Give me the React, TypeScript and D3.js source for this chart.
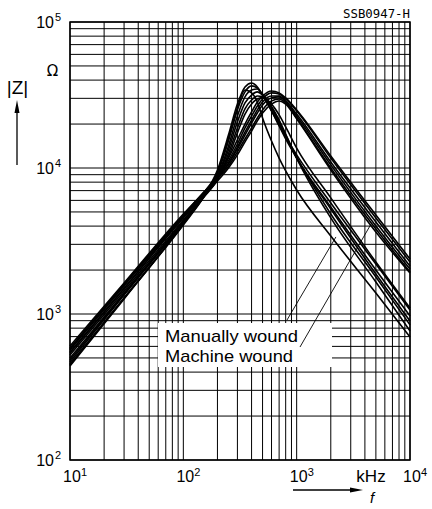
import * as d3 from "d3";

// frequency grid (kHz) shared by all curves
const freqKHz = [10, 30, 100, 150, 200, 250, 300, 350, 400, 450, 500, 600, 700, 800, 1000, 2000, 5000, 10000];

// |Z| in ohm, manually wound samples (lower resonance, higher peak)
const manuallyWound = [
  [484, 1371, 4270, 6430, 9700, 16800, 27400, 35900, 38200, 35900, 31600, 24600, 19700, 16300, 12300, 5760, 2200, 1065],
  [455, 1287, 4070, 6240, 9110, 15300, 25000, 33200, 36500, 35300, 31600, 24600, 19400, 15800, 11700, 5410, 2000, 970],
  [441, 1267, 4140, 6330, 8820, 14100, 22700, 30700, 34200, 34800, 32100, 25800, 20300, 16300, 11700, 5240, 1880, 896],
  [500, 1393, 4340, 6430, 8680, 13300, 20700, 27900, 31600, 33200, 31600, 26200, 21000, 16800, 11900, 4840, 1790, 842],
  [524, 1437, 4410, 6330, 8420, 12500, 18800, 25400, 29200, 31100, 30700, 26200, 21300, 17100, 11700, 4550, 1656, 765],
  [469, 1349, 4200, 6240, 8280, 11900, 17400, 23400, 27400, 29700, 30200, 27400, 23100, 19100, 13700, 6240, 2270, 1099],
  [448, 1287, 4140, 6330, 9400, 16000, 25800, 34200, 32700, 28300, 22000, 15300, 11700, 9550, 7070, 3420, 1393, 696],
];

// |Z| in ohm, machine wound samples
const machineWound = [
  [567, 1555, 4690, 6750, 8960, 11700, 15600, 20000, 24200, 28300, 31100, 33700, 32700, 30200, 25000, 12100, 4770, 2380],
  [585, 1605, 4770, 6750, 8680, 11200, 14600, 18800, 22700, 26600, 29700, 32700, 32100, 29700, 24600, 11700, 4550, 2270],
  [549, 1507, 4620, 6640, 8550, 10800, 13900, 17600, 21300, 25000, 28300, 31100, 31100, 28800, 23400, 11000, 4270, 2130],
  [604, 1631, 4840, 6750, 8550, 10650, 13500, 16800, 20300, 23800, 27000, 30200, 30700, 28300, 22700, 10500, 4010, 2030],
  [576, 1580, 4690, 6640, 8420, 10300, 12900, 15800, 18800, 22000, 25000, 28800, 29700, 27900, 22000, 10000, 3820, 1940],
  [541, 1483, 4550, 6430, 8150, 10000, 12300, 15100, 17900, 21000, 23800, 27400, 28800, 27400, 21700, 9700, 3650, 1910],
];

const xTickExps = [1, 2, 3, 4];
const yTickExps = [2, 3, 4, 5];

// leader lines: [from (kHz, ohm), to (kHz, ohm)]
const leaders = [
  { label: "Manually wound", from: [822, 910], to: [2220, 3370] },
  { label: "Machine wound", from: [1070, 594], to: [4530, 4130] },
];

const W = 432;
const H = 509;
const left = 70;
const right = 410;
const top = 22;
const bottom = 460;

export default function App() {
  const x = d3.scaleLog().domain([10, 1e4]).range([left, right]);
  const y = d3.scaleLog().domain([100, 1e5]).range([bottom, top]);

  const line = d3
    .line<number>()
    .x((_, i) => x(freqKHz[i]))
    .y((d) => y(d))
    .curve(d3.curveMonotoneX);

  const curves = [...manuallyWound, ...machineWound];
  const sans = "'Liberation Sans', Arial, sans-serif";

  return (
    <svg
      width={W}
      height={H}
      style={{ position: "absolute", left: 0, top: 0, background: "#fff" }}
      fontFamily={sans}
    >
      <rect width={W} height={H} fill="#fff" />

      {/* grid */}
      <g stroke="#000" strokeWidth={1}>
        {x.ticks().map((t) => (
          <line key={"x" + t} x1={x(t)} x2={x(t)} y1={top} y2={bottom} />
        ))}
        {y.ticks().map((t) => (
          <line key={"y" + t} x1={left} x2={right} y1={y(t)} y2={y(t)} />
        ))}
      </g>
      <rect x={left} y={top} width={right - left} height={bottom - top} fill="none" stroke="#000" strokeWidth={1.5} />

      {/* legend box */}
      <rect x={158} y={323} width={174} height={44} fill="#fff" />

      {/* curves */}
      <g fill="none" stroke="#000" strokeWidth={1.6}>
        {curves.map((c, i) => (
          <path key={i} d={line(c) || ""} />
        ))}
      </g>

      {/* leaders */}
      <g stroke="#000" strokeWidth={0.9}>
        {leaders.map((l) => (
          <line key={l.label} x1={x(l.from[0])} y1={y(l.from[1])} x2={x(l.to[0])} y2={y(l.to[1])} />
        ))}
      </g>
      <text x={165} y={342} fontSize={17} textLength={133} lengthAdjust="spacingAndGlyphs">
        {leaders[0].label}
      </text>
      <text x={165} y={362} fontSize={17} textLength={128} lengthAdjust="spacingAndGlyphs">
        {leaders[1].label}
      </text>

      {/* y tick labels */}
      {yTickExps.map((e) => (
        <g key={"yl" + e}>
          <text x={54} y={y(Math.pow(10, e)) + 6} fontSize={16} textAnchor="end">
            10
          </text>
          <text x={55} y={y(Math.pow(10, e)) - 1} fontSize={11}>
            {e}
          </text>
        </g>
      ))}

      {/* x tick labels */}
      {xTickExps.map((e) => (
        <g key={"xl" + e}>
          <text x={x(Math.pow(10, e)) + 2} y={482} fontSize={16} textAnchor="middle">
            10
          </text>
          <text x={x(Math.pow(10, e)) + 11} y={476} fontSize={11}>
            {e}
          </text>
        </g>
      ))}

      <text x={371} y={482} fontSize={17} textAnchor="middle">
        kHz
      </text>
      <text x={410} y={18} fontSize={13} textAnchor="end" fontFamily="'DejaVu Sans Mono', monospace" textLength={67} lengthAdjust="spacingAndGlyphs">
        SSB0947-H
      </text>
      <text x={52.5} y={76} fontSize={15} textAnchor="middle" fontFamily="'DejaVu Sans', sans-serif">
        Ω
      </text>
      <text x={17.5} y={94} fontSize={19} textAnchor="middle">
        |Z|
      </text>

      {/* axis arrows */}
      <line x1={17} y1={165} x2={17} y2={110} stroke="#000" strokeWidth={1.3} />
      <path d="M17,100 L19.5,113 L14.5,113 Z" fill="#000" />
      <line x1={293} y1={490} x2={352} y2={490} stroke="#000" strokeWidth={1.3} />
      <path d="M363,490 L350,487.5 L350,492.5 Z" fill="#000" />
      <text x={372} y={503} fontSize={15} fontStyle="italic" textAnchor="middle">
        f
      </text>
    </svg>
  );
}
